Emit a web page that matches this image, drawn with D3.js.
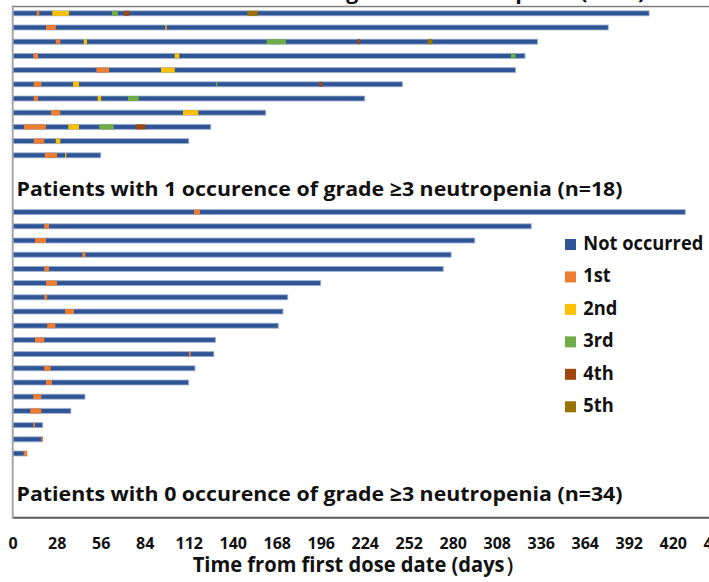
<!DOCTYPE html>
<html>
<head>
<meta charset="utf-8">
<script src="https://cdn.jsdelivr.net/npm/d3@7"></script>
<style>
  html, body { margin: 0; padding: 0; background: #fff; overflow: hidden; }
  svg { display: block; }
</style>
</head>
<body>
<svg id="chart" width="709" height="582"></svg>
<script>
// Series (legend order) and their colours
const seriesNames  = ["Not occurred", "1st", "2nd", "3rd", "4th", "5th"];
const seriesColors = ["#2F5597", "#ED7D31", "#FFC000", "#70AD47", "#9E480E", "#997300"];

// X-axis tick labels (days, every 4 weeks)
const tickDays = [0, 28, 56, 84, 112, 140, 168, 196, 224, 252, 280, 308, 336, 364, 392, 420, 448];

// Patients with >=2 occurrences: follow-up length (days) and each episode [start, end] in order
const multiDurations = [405, 379, 334, 326, 320, 248, 224, 161, 126, 112, 56];
const multiEvents = [
  [[15.3, 16.9], [25.2, 35.8], [63.2, 67.0], [70.8, 74.2], [149.3, 155.9]],
  [[21.2, 27.4], [97.1, 98.0]],
  [[27.4, 30.3], [45.2, 47.3], [161.6, 173.9], [219.3, 221.0], [264.1, 267.0]],
  [[13.1, 16.1], [103.1, 106.0], [317.1, 320.0]],
  [[53.2, 61.3], [94.4, 103.1]],
  [[13.4, 18.2], [38.4, 42.2], [129.4, 130.2], [195.1, 197.0]],
  [[13.4, 16.1], [54.1, 56.2], [73.4, 80.2]],
  [[24.4, 30.3], [108.4, 118.1]],
  [[7.2, 21.2], [35.4, 42.2], [55.1, 64.3], [78.3, 84.4]],
  [[13.4, 20.1], [27.4, 30.3]],
  [[20.4, 28.2], [33.3, 34.1]]
];

// Patients with exactly 1 occurrence: follow-up length and the single episode
const singleDurations = [428, 330, 294, 279, 274, 196, 175, 172, 169, 129, 128, 116, 112, 46, 37, 19.1, 19.1, 9.1];
const singleEvents = [
  [115.4, 119.2], [20.1, 23.1], [14.2, 21.2], [44.3, 46.2], [20.1, 23.1], [21.2, 28.2],
  [20.1, 22.0], [33.3, 39.0], [22.0, 27.1], [14.2, 20.1], [112.2, 113.3], [20.1, 24.2],
  [21.2, 25.0], [13.1, 18.2], [11.2, 18.2], [13.1, 14.2], [18.2, 19.1], [7.0, 9.1]
];

const groupTitles = [
  "Patients with \u22652 occurences of grade \u22653 neutropenia (n=11)",
  "Patients with 1 occurence of grade \u22653 neutropenia (n=18)",
  "Patients with 0 occurence of grade \u22653 neutropenia (n=34)"
];
const axisTitle = "Time from first dose date (days\uFF09";

// ---------------------------------------------------------------------------
const FONT = "'Open Sans', 'Noto Sans', sans-serif";
const svg = d3.select("#chart");

const plotLeft = 12.7, plotTop = 6.5, plotBottom = 517.7;
const x = d3.scaleLinear().domain([0, 448]).range([plotLeft, 716.7]);
// one slot per swimmer lane; the title lanes sit between the groups
const y = d3.scaleLinear().domain([0, 1]).range([13.3, 27.5]);
const barH = 5;

const rows = [];
multiDurations.forEach((d, i) => rows.push({ slot: i, duration: d, events: multiEvents[i] }));
singleDurations.forEach((d, i) => rows.push({ slot: 14 + i, duration: d, events: [singleEvents[i]] }));

const halo = c => d3.interpolateRgb(c, "#ffffff")(0.55);

const lanes = svg.append("g").attr("class", "lanes")
  .selectAll("g").data(rows).join("g")
  .attr("transform", r => `translate(0,${y(r.slot) - barH / 2})`);

lanes.append("rect")
  .attr("x", x(0))
  .attr("width", r => x(r.duration) - x(0))
  .attr("height", barH)
  .attr("fill", seriesColors[0])
  .attr("stroke", halo(seriesColors[0]))
  .attr("stroke-width", 1)
  .attr("stroke-opacity", 0.8);

lanes.selectAll("rect.ev")
  .data(r => r.events.map((e, k) => ({ start: e[0], end: e[1], order: k + 1 })))
  .join("rect")
  .attr("class", "ev")
  .attr("x", e => x(e.start))
  .attr("width", e => Math.max(0.9, x(e.end) - x(e.start)))
  .attr("height", barH)
  .attr("fill", e => seriesColors[e.order]);

// plot frame
svg.append("line").attr("x1", plotLeft).attr("x2", 709).attr("y1", plotTop).attr("y2", plotTop)
  .attr("stroke", "#7f7f7f").attr("stroke-width", 1.5);
svg.append("line").attr("x1", plotLeft).attr("x2", 709).attr("y1", plotBottom).attr("y2", plotBottom)
  .attr("stroke", "#595959").attr("stroke-width", 2);
svg.append("line").attr("x1", plotLeft).attr("x2", plotLeft).attr("y1", plotTop - 1).attr("y2", plotBottom + 1)
  .attr("stroke", "#a6a6a6").attr("stroke-width", 2);

// group titles, compressed to a common width ratio
function fitText(sel, ratio) {
  sel.each(function () {
    const w = this.getComputedTextLength();
    d3.select(this).attr("textLength", w * ratio).attr("lengthAdjust", "spacingAndGlyphs");
  });
}

const titleBaselines = [-0.8, 196, 500.5];
const titles = svg.append("g").selectAll("text").data(groupTitles).join("text")
  .attr("x", 16.5)
  .attr("y", (t, i) => titleBaselines[i])
  .attr("font-family", FONT).attr("font-weight", 700).attr("font-size", 20)
  .attr("fill", "#111")
  .text(t => t);
const refW = titles.nodes()[1].getComputedTextLength();
fitText(titles, 606 / refW);

// x axis
const axis = svg.append("g").attr("transform", `translate(0,${plotBottom})`)
  .call(d3.axisBottom(x).tickValues(tickDays).tickSize(0).tickFormat(d3.format("d")));
axis.select(".domain").remove();
axis.selectAll("text")
  .attr("y", 31.3).attr("dy", null)
  .attr("font-family", FONT).attr("font-weight", 700).attr("font-size", 16)
  .attr("fill", "#111");

const xt = svg.append("text")
  .attr("x", 192.7).attr("y", 572)
  .attr("font-family", FONT).attr("font-weight", 700).attr("font-size", 21)
  .attr("fill", "#111")
  .text(axisTitle);
xt.attr("textLength", 332).attr("lengthAdjust", "spacingAndGlyphs");

// legend
const legend = svg.append("g").selectAll("g").data(seriesNames).join("g")
  .attr("transform", (d, i) => `translate(565,${250 + 32.45 * i})`);
legend.append("rect")
  .attr("x", 0).attr("y", -11).attr("width", 11).attr("height", 11)
  .attr("fill", (d, i) => seriesColors[i]);
const legText = legend.append("text")
  .attr("x", 18.3).attr("y", 0)
  .attr("font-family", FONT).attr("font-weight", 700).attr("font-size", 20)
  .attr("fill", "#111")
  .text(d => d);
const legRef = legText.nodes()[0].getComputedTextLength();
fitText(legText, 120 / legRef);
</script>
</body>
</html>
